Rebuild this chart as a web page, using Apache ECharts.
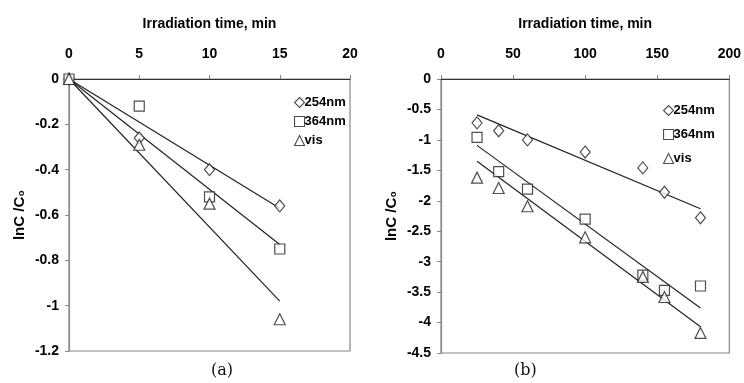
<!DOCTYPE html>
<html>
<head>
<meta charset="utf-8">
<script src="https://cdn.jsdelivr.net/npm/echarts@6/dist/echarts.min.js"></script>
<style>
    html, body { margin: 0; padding: 0; background: #fff; }
    #chartView { width: 744px; height: 383px; }
</style>
</head>
<body>
<div id="chartView"></div>
<script>
    // (a) 短时间
    var timeA = [0, 5, 10, 15];
    var uv254A = [0, -0.26, -0.40, -0.56];
    var uv364A = [0, -0.12, -0.52, -0.75];
    var visA = [0, -0.29, -0.55, -1.06];
    var fitXA = [0, 15];
    var fit254A = [0, -0.57];
    var fit364A = [0, -0.73];
    var fitVisA = [0, -0.98];

    // (b) 长时间
    var timeB = [25, 40, 60, 100, 140, 155, 180];
    var uv254B = [-0.72, -0.85, -1.0, -1.2, -1.46, -1.86, -2.28];
    var uv364B = [-0.96, -1.52, -1.81, -2.3, -3.22, -3.47, -3.4];
    var visB = [-1.62, -1.79, -2.09, -2.6, -3.25, -3.58, -4.17];
    var fitXB = [25, 180];
    var fit254B = [-0.59, -2.13];
    var fit364B = [-1.09, -3.76];
    var fitVisB = [-1.35, -4.07];

    var seriesNames = ['254nm', '364nm', 'vis'];
    var symbols = ['diamond', 'rect', 'triangle'];

    function pairs(xs, ys) {
        return xs.map(function (x, i) { return [x, ys[i]]; });
    }

    var theFont = '"Liberation Sans", Arial, sans-serif';
    var labelStyle = {color: '#000', fontWeight: 'bold', fontSize: 14, fontFamily: theFont};

    function xAxisOf(gridIndex, max, interval) {
        return {
            gridIndex: gridIndex,
            type: 'value',
            position: 'top',
            min: 0, max: max, interval: interval,
            name: 'Irradiation time, min',
            nameLocation: 'middle',
            nameGap: 48,
            nameTextStyle: {color: '#000', fontWeight: 'bold', fontSize: 14, fontFamily: theFont},
            axisLine: {onZero: false, lineStyle: {color: '#333', width: 1.2}},
            axisTick: {show: true, length: 4, inside: false, lineStyle: {color: '#888'}},
            axisLabel: Object.assign({margin: 18}, labelStyle),
            splitLine: {show: false}
        };
    }

    function yAxisOf(gridIndex, min, interval) {
        return {
            gridIndex: gridIndex,
            type: 'value',
            min: min, max: 0, interval: interval,
            name: 'lnC /C₀',
            nameLocation: 'middle',
            nameGap: 42,
            nameTextStyle: {color: '#000', fontWeight: 'bold', fontSize: 15, fontFamily: theFont},
            axisLine: {onZero: false, lineStyle: {color: '#888', width: 1.2}},
            axisTick: {show: true, length: 4, lineStyle: {color: '#888'}},
            axisLabel: Object.assign({margin: 10}, labelStyle),
            splitLine: {show: false}
        };
    }

    function scatterOf(name, symbol, idx, data) {
        return {
            name: name,
            type: 'scatter',
            xAxisIndex: idx, yAxisIndex: idx,
            symbol: symbol,
            symbolSize: symbol === 'rect' ? 10 : (symbol === 'diamond' ? [10, 12] : 11),
            itemStyle: {color: '#fff', borderColor: '#222', borderWidth: 1.2},
            data: data,
            z: 3
        };
    }

    function fitOf(idx, xs, ys) {
        return {
            name: 'fit',
            type: 'line',
            xAxisIndex: idx, yAxisIndex: idx,
            symbol: 'none',
            lineStyle: {color: '#222', width: 1.2},
            data: pairs(xs, ys),
            z: 2
        };
    }

    function legendOf(left, top, gap) {
        return {
            data: seriesNames,
            orient: 'vertical',
            left: left, top: top,
            itemWidth: 10, itemHeight: 10, itemGap: gap,
            selectedMode: false,
            itemStyle: {color: '#fff', borderColor: '#222', borderWidth: 1.1},
            textStyle: {color: '#000', fontWeight: 'bold', fontSize: 13, fontFamily: theFont, padding: [0, 0, 0, -5]}
        };
    }

    var option = {
        animation: false,
        backgroundColor: '#fff',
        grid: [
            {left: 69, top: 79, width: 281, height: 272, show: true, borderColor: '#888', borderWidth: 1.2, backgroundColor: 'transparent'},
            {left: 441, top: 79, width: 289, height: 274, show: true, borderColor: '#888', borderWidth: 1.2, backgroundColor: 'transparent'}
        ],
        legend: [legendOf(289, 91, 6), legendOf(658, 99, 11)],
        xAxis: [xAxisOf(0, 20, 5), xAxisOf(1, 200, 50)],
        yAxis: [yAxisOf(0, -1.2, 0.2), yAxisOf(1, -4.5, 0.5)],
        series: [
            scatterOf(seriesNames[0], symbols[0], 0, pairs(timeA, uv254A)),
            scatterOf(seriesNames[1], symbols[1], 0, pairs(timeA, uv364A)),
            scatterOf(seriesNames[2], symbols[2], 0, pairs(timeA, visA)),
            fitOf(0, fitXA, fit254A),
            fitOf(0, fitXA, fit364A),
            fitOf(0, fitXA, fitVisA),
            scatterOf(seriesNames[0], symbols[0], 1, pairs(timeB, uv254B)),
            scatterOf(seriesNames[1], symbols[1], 1, pairs(timeB, uv364B)),
            scatterOf(seriesNames[2], symbols[2], 1, pairs(timeB, visB)),
            fitOf(1, fitXB, fit254B),
            fitOf(1, fitXB, fit364B),
            fitOf(1, fitXB, fitVisB)
        ],
        graphic: [
            {type: 'text', left: 211, top: 363, style: {text: '(a)', fill: '#111', fontSize: 16, fontFamily: 'DejaVu Serif'}},
            {type: 'text', left: 514, top: 363, style: {text: '(b)', fill: '#111', fontSize: 16, fontFamily: 'DejaVu Serif'}}
        ]
    };

    var chartView = echarts.init(document.getElementById('chartView'));
    chartView.setOption(option);
</script>
</body>
</html>
